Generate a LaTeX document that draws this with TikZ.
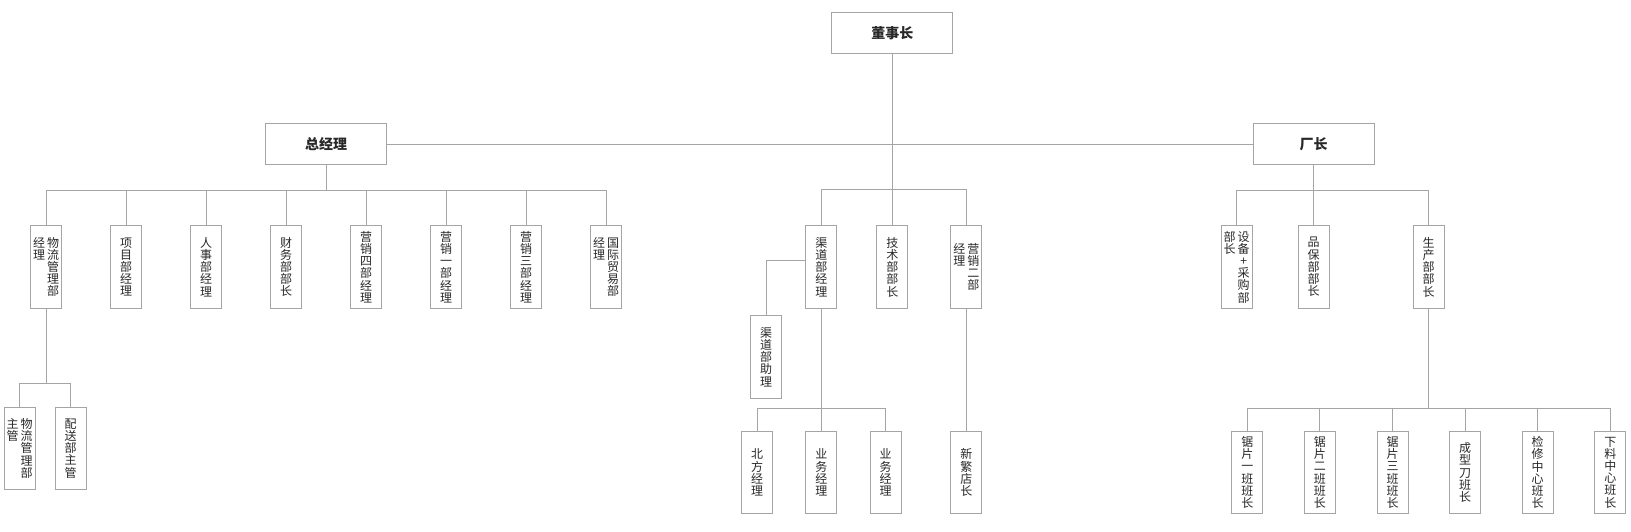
\documentclass[tikz,border=0pt]{standalone}
\usepackage{fontspec}
\setmainfont{Noto Sans CJK SC}
\definecolor{linegray}{RGB}{165,165,165}
\definecolor{textgray}{RGB}{40,40,40}
\newcommand{\vcols}[2]{\parbox[t]{14pt}{\centering #2}\parbox[t]{14pt}{\centering #1}}

\begin{document}
\begin{tikzpicture}[x=1pt, y=1pt, node distance=80pt,
	box/.style={rectangle, draw=linegray, line width=1pt, fill=white, text=textgray, minimum width=121pt, minimum height=40.5pt, inner sep=0pt, font=\fontsize{14}{16}\selectfont\bfseries},
	vbox/.style={rectangle, draw=linegray, line width=1pt, fill=white, text=textgray, minimum width=31pt, minimum height=82.5pt, inner sep=0pt, align=center, font=\fontsize{12}{12.2}\selectfont},
	link/.style={draw=linegray, line width=1pt}]
	\path[fill=white, use as bounding box] (0,0) rectangle (1631,-531);

	\node (chair) [box] at (892.3,-33) {董事长};
	\node (gm) [box] at (326,-144) {总经理};
	\node (fac) [box] at (1313.5,-144) {厂长};

	\node (wl) [vbox] at (46,-267) {\vcols{物\\流\\管\\理\\部}{经\\理}};
	\node (xm) [vbox, right of=wl] {项\\目\\部\\经\\理};
	\node (rs) [vbox, right of=xm] {人\\事\\部\\经\\理};
	\node (cw) [vbox, right of=rs] {财\\务\\部\\部\\长};
	\node (yx4) [vbox, right of=cw] {营\\销\\四\\部\\经\\理};
	\node (yx1) [vbox, right of=yx4] {营\\销\\一\\部\\经\\理};
	\node (yx3) [vbox, right of=yx1] {营\\销\\三\\部\\经\\理};
	\node (gj) [vbox, right of=yx3] {\vcols{国\\际\\贸\\易\\部}{经\\理}};

	\node (wlzg) [vbox] at (19.5,-448.3) {\vcols{物\\流\\管\\理\\部}{主\\管}};
	\node (pszg) [vbox] at (70.5,-448.3) {配\\送\\部\\主\\管};

	\node (qd) [vbox] at (821.3,-267) {渠\\道\\部\\经\\理};
	\node (js) [vbox] at (892.3,-267) {技\\术\\部\\部\\长};
	\node (yx2) [vbox] at (966.3,-267) {\vcols{营\\销\\二\\部}{经\\理}};
	\node (qdzl) [vbox] at (766,-357) {渠\\道\\部\\助\\理};
	\node (bf) [vbox] at (757,-472.5) {北\\方\\经\\理};
	\node (yw1) [vbox] at (821.3,-472.5) {业\\务\\经\\理};
	\node (yw2) [vbox] at (885.7,-472.5) {业\\务\\经\\理};
	\node (xf) [vbox] at (966.3,-472.5) {新\\繁\\店\\长};

	\node (sb) [vbox] at (1236.7,-267) {\vcols{设\\备\\+\\采\\购\\部}{部\\长}};
	\node (pb) [vbox] at (1313.5,-267) {品\\保\\部\\部\\长};
	\node (sc) [vbox] at (1428.5,-267) {生\\产\\部\\部\\长};

	\begin{scope}[node distance=72.6pt]
	\node (jp1) [vbox] at (1247.3,-472.5) {锯\\片\\一\\班\\班\\长};
	\node (jp2) [vbox, right of=jp1] {锯\\片\\二\\班\\班\\长};
	\node (jp3) [vbox, right of=jp2] {锯\\片\\三\\班\\班\\长};
	\node (cx) [vbox, right of=jp3] {成\\型\\刀\\班\\长};
	\node (jx) [vbox, right of=cx] {检\\修\\中\\心\\班\\长};
	\node (xl) [vbox, right of=jx] {下\\料\\中\\心\\班\\长};
	\end{scope}

	\draw[link] (chair.south) -- (js.north);
	\draw[link] (gm.east) -- (fac.west);
	\foreach \n in {wl,xm,rs,cw,yx4,yx1,yx3,gj}
		\draw[link] (gm.south) -- ++(0,-26) -| (\n.north);
	\foreach \n in {wlzg,pszg}
		\draw[link] (wl.south) -- ++(0,-74.3) -| (\n.north);
	\draw[link] (qd.north) -- ++(0,36) -| (yx2.north);
	\draw[link] ([yshift=7pt]qd.west) -| (qdzl.north);
	\foreach \n in {bf,yw1,yw2}
		\draw[link] (qd.south) -- ++(0,-99.7) -| (\n.north);
	\draw[link] (yx2.south) -- (xf.north);
	\foreach \n in {sb,pb,sc}
		\draw[link] (fac.south) -- ++(0,-26) -| (\n.north);
	\foreach \n in {jp1,jp2,jp3,cx,jx,xl}
		\draw[link] (sc.south) -- ++(0,-99.3) -| (\n.north);
\end{tikzpicture}
\end{document}
